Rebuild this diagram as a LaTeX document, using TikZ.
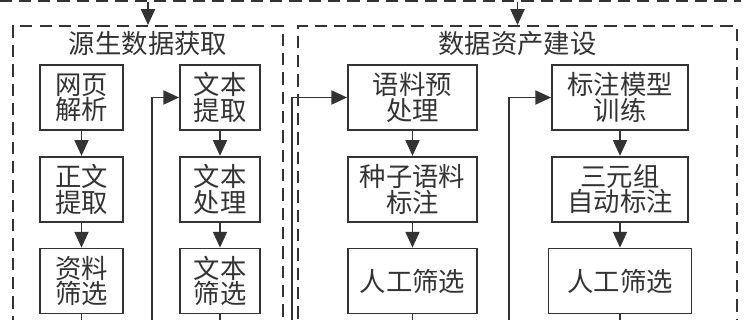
\documentclass[tikz,border=0pt]{standalone}
\usepackage{fontspec}
\newfontfamily\cjk{Noto Sans CJK SC}
\usepackage{tikz}
\usetikzlibrary{positioning,arrows.meta,calc}

\definecolor{inkgray}{HTML}{333333}

\begin{document}
\begin{tikzpicture}[
    x=0.02cm, y=-0.02cm,
    node distance=0.5cm and 1.0cm,
    box/.style={draw=inkgray, line width=1pt, minimum height=1.3cm, align=center, inner sep=1pt, text=inkgray, font=\cjk\fontsize{15}{14.5}\selectfont},
    frame/.style={draw=inkgray, line width=1pt, dash pattern=on 7pt off 4pt},
    title/.style={text=inkgray, inner sep=0pt, font=\cjk\fontsize{15}{15}\selectfont},
    arr/.style={-{Triangle[length=9pt, width=8pt]}, draw=inkgray, line width=1pt},
    line/.style={draw=inkgray, line width=1pt},
]

\useasboundingbox (0,0) rectangle (750,319);
\clip (0,0) rectangle (750,319);

% Frames
\node[frame, minimum width=15.2cm, minimum height=2cm, anchor=south] (upper) at (360,1.5) {};
\node[frame, minimum width=5.4cm, minimum height=6.6cm, anchor=north] (src) at (148,25) {};
\node[frame, minimum width=8.78cm, minimum height=6.6cm, anchor=north] (dat) at (517.5,25) {};
\node[title] (srctitle) at (148,44) {源生数据获取};
\node[title] (dattitle) at (517.5,44) {数据资产建设};

% Column 1: web pages
\node[box, minimum width=1.66cm] (web) at (81.5,97.5) {网页\\解析};
\node[box, minimum width=1.66cm, below=of web] (body) {正文\\提取};
\node[box, minimum width=1.66cm, below=of body] (sel) {资料\\筛选};

% Column 2: text
\node[box, minimum width=1.6cm] (txtget) at (220,97.5) {文本\\提取};
\node[box, minimum width=1.6cm, below=of txtget] (txtproc) {文本\\处理};
\node[box, minimum width=1.6cm, below=of txtproc] (txtsel) {文本\\筛选};

% Column 3: corpus
\node[box, minimum width=2.58cm] (pre) at (412.5,97.5) {语料预\\处理};
\node[box, minimum width=2.58cm, below=of pre] (seed) {种子语料\\标注};
\node[box, minimum width=2.58cm, below=of seed] (manA) {人工筛选};

% Column 4: model
\node[box, minimum width=2.72cm] (mod) at (620,97.5) {标注模型\\训练};
\node[box, minimum width=2.72cm, below=of mod] (auto) {三元组\\自动标注};
\node[box, minimum width=2.86cm, below=of auto] (manB) {人工筛选};

% Loose ends below the picture
\coordinate (fbA) at (152,330);
\coordinate (fbB) at (292,330);
\coordinate (fbC) at (509,330);

% Arrows
\draw[arr] (upper.south -| src.north) -- (src.north);
\draw[arr] (upper.south -| dat.north) -- (dat.north);

\draw[arr] (web) -- (body);
\draw[arr] (body) -- (sel);
\draw[arr] (txtget) -- (txtproc);
\draw[arr] (txtproc) -- (txtsel);
\draw[arr] (pre) -- (seed);
\draw[arr] (seed) -- (manA);
\draw[arr] (mod) -- (auto);
\draw[arr] (auto) -- (manB);

\draw[arr] (fbA) |- (txtget.west);
\draw[arr] (fbB) |- (pre.west);
\draw[arr] (fbC) |- (mod.west);

\draw[line] (sel.south) -- (sel.south |- fbA);
\draw[line] (txtsel.south) -- (txtsel.south |- fbA);
\draw[line] (manA.south) -- (manA.south |- fbA);
\draw[line] (manB.south) -- (manB.south |- fbA);

\end{tikzpicture}
\end{document}
